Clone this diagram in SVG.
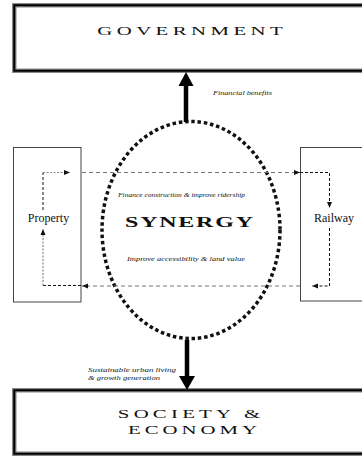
<svg xmlns="http://www.w3.org/2000/svg" width="362" height="456" viewBox="0 0 362 456">
<style>
.cap{font-family:"Liberation Serif","Times New Roman",serif;fill:#111;text-anchor:middle}
.lbl{font-family:"Liberation Serif","Times New Roman",serif;font-style:italic;font-size:6.5px;fill:#111}
.name{font-family:"Liberation Serif","Times New Roman",serif;font-size:12px;fill:#111;text-anchor:middle}
.outer{fill:#fff;stroke:#888;stroke-width:4.5}
.inner{fill:none;stroke:#000;stroke-width:2}
.side{fill:#fff;stroke:#444;stroke-width:1}
.bd{fill:none;stroke:#111;stroke-width:1;stroke-dasharray:3 2}
.gd{fill:none;stroke:#888;stroke-width:1.2;stroke-dasharray:2 1.5}
.gl{fill:none;stroke:#777;stroke-width:1;stroke-dasharray:4 3}
</style>
<defs>
<marker id="ah" viewBox="0 0 6 6" refX="6" refY="3" markerWidth="6" markerHeight="6" markerUnits="userSpaceOnUse" orient="auto">
<path d="M0,0.5 L6,3 L0,5.5 Z" fill="#111"/>
</marker>
</defs>
<g id="government">
<rect class="outer" x="14.25" y="5.25" width="360" height="65.5"/>
<rect class="inner" x="14.25" y="5.25" width="360" height="65.5"/>
<text class="cap" font-size="13" transform="translate(190,35) scale(1.6,1)" textLength="116" lengthAdjust="spacing">GOVERNMENT</text>
</g>
<g id="society">
<rect class="outer" x="14.25" y="390.25" width="360" height="63.5"/>
<rect class="inner" x="14.25" y="390.25" width="360" height="63.5"/>
<text class="cap" font-size="13" transform="translate(189,418) scale(1.6,1)" textLength="89" lengthAdjust="spacing">SOCIETY &amp;</text>
<text class="cap" font-size="13" transform="translate(192.5,434) scale(1.6,1)" textLength="80.5" lengthAdjust="spacing">ECONOMY</text>
</g>
<g id="property">
<rect class="side" x="13.5" y="147.5" width="67.5" height="154.5"/>
<text class="name" x="48.5" y="222">Property</text>
</g>
<g id="railway">
<rect class="side" x="300.5" y="147.5" width="70" height="153.5"/>
<text class="name" x="334" y="222">Railway</text>
</g>
<g id="synergy">
<ellipse cx="191" cy="230" rx="89" ry="108.5" fill="none" stroke="#111" stroke-width="3.5" stroke-dasharray="3.5 2.8"/>
<text class="cap" font-size="15" font-weight="bold" transform="translate(189,227) scale(1.6,1)" textLength="80" lengthAdjust="spacing">SYNERGY</text>
</g>
<g id="connectors">
<line x1="186" y1="122" x2="186" y2="85" stroke="#000" stroke-width="4.5"/>
<path d="M178.5,86 L186,72 L193.5,86 Z" fill="#000"/>
<line x1="187" y1="340" x2="187" y2="377" stroke="#000" stroke-width="4.5"/>
<path d="M179,376 L187,390 L195,376 Z" fill="#000"/>
<path class="bd" d="M43,210 V172.5"/>
<path class="gd" d="M43,172.5 H70" marker-end="url(#ah)"/>
<path class="gl" d="M82,172.5 H300" marker-end="url(#ah)"/>
<path class="bd" d="M300,172.5 H329.5 V208" marker-end="url(#ah)"/>
<path class="bd" d="M329.5,228 V286 H312" marker-end="url(#ah)"/>
<path class="gl" d="M300,286 H82" marker-end="url(#ah)"/>
<path class="bd" d="M81,285.5 H43"/>
<path class="gd" d="M43,285.5 V229" marker-end="url(#ah)"/>
</g>
<g id="labels">
<text class="lbl" x="213" y="95" textLength="59" lengthAdjust="spacingAndGlyphs">Financial benefits</text>
<text class="lbl" x="118" y="197" textLength="127" lengthAdjust="spacingAndGlyphs">Finance construction &amp; improve ridership</text>
<text class="lbl" x="127" y="261" textLength="118" lengthAdjust="spacingAndGlyphs">Improve accessibility &amp; land value</text>
<text class="lbl" x="88" y="372" textLength="88" lengthAdjust="spacingAndGlyphs">Sustainable urban living</text>
<text class="lbl" x="88" y="380" textLength="72" lengthAdjust="spacingAndGlyphs">&amp; growth generation</text>
</g>
</svg>
